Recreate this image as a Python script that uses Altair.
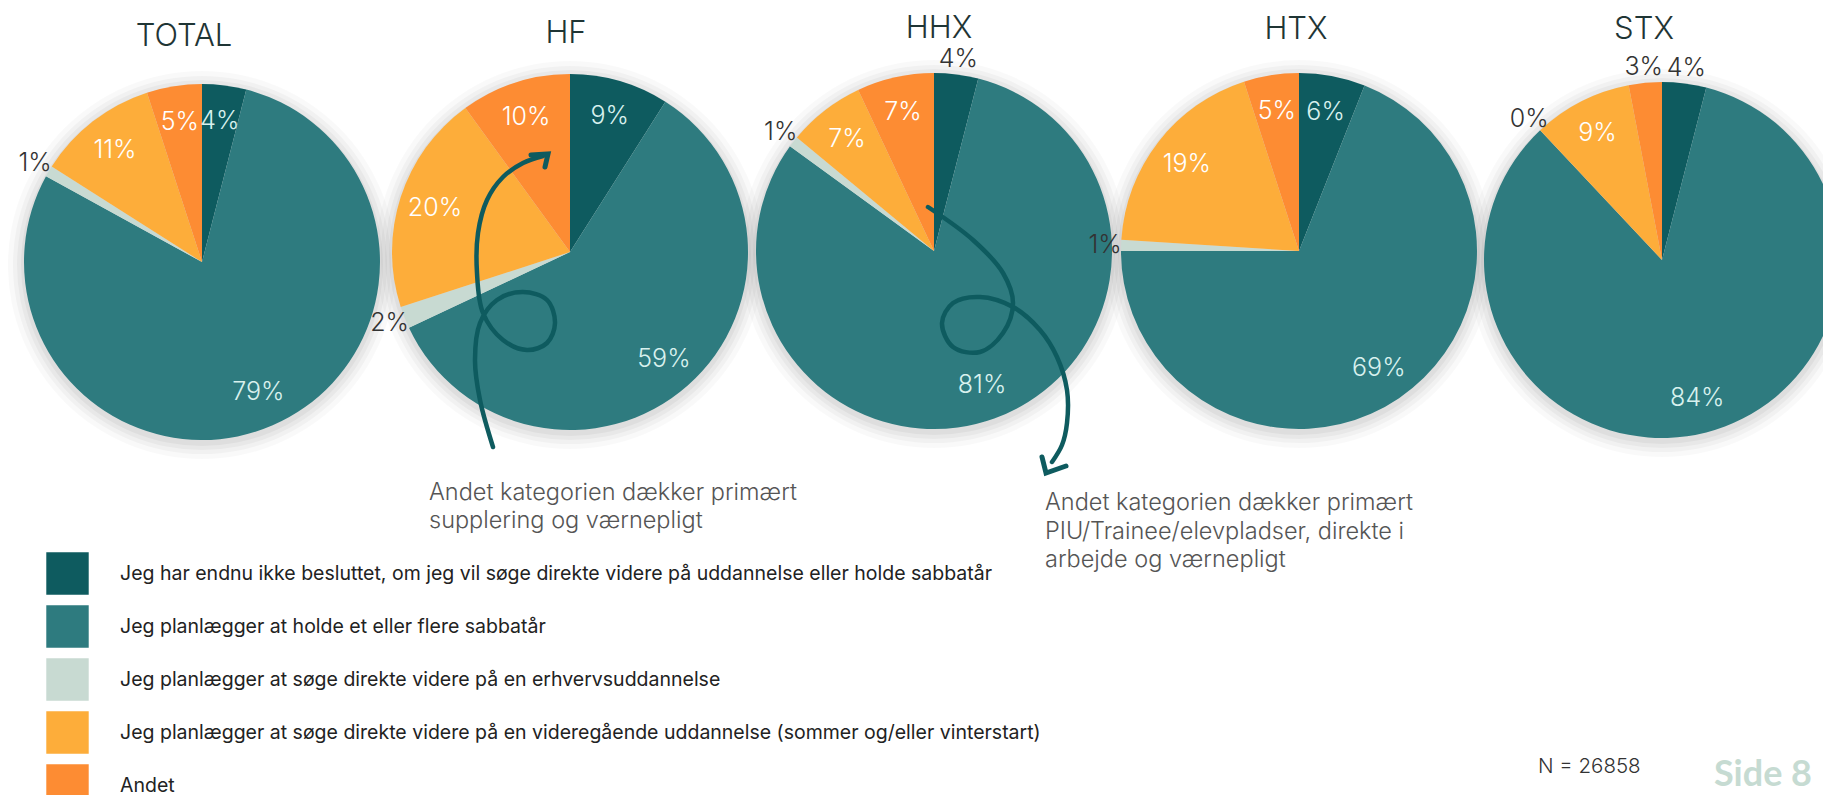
import math
import altair as alt
import pandas as pd

# ---------------- data ----------------
PANELS = ["TOTAL", "HF", "HHX", "HTX", "STX"]
CATEGORIES = [
    "Jeg har endnu ikke besluttet, om jeg vil søge direkte videre på uddannelse eller holde sabbatår",
    "Jeg planlægger at holde et eller flere sabbatår",
    "Jeg planlægger at søge direkte videre på en erhvervsuddannelse",
    "Jeg planlægger at søge direkte videre på en videregående uddannelse (sommer og/eller vinterstart)",
    "Andet",
]
TOTAL = [4, 79, 1, 11, 5]
HF = [9, 59, 2, 20, 10]
HHX = [4, 81, 1, 7, 7]
HTX = [6, 69, 1, 19, 5]
STX = [4, 84, 0, 9, 3]
VALUES = {"TOTAL": TOTAL, "HF": HF, "HHX": HHX, "HTX": HTX, "STX": STX}

NOTE_HF = ["Andet kategorien dækker primært", "supplering og værnepligt"]
NOTE_HHX = ["Andet kategorien dækker primært", "PIU/Trainee/elevpladser, direkte i", "arbejde og værnepligt"]
N_TEXT = "N = 26858"
PAGE_TEXT = "Side 8"

# ---------------- style / layout ----------------
COLORS = ["#0e5b5f", "#2e7b7f", "#c8dad2", "#fdad3a", "#fd8c33"]
LIGHT_ON = {0, 1}          # category indices with pale label text
W, H = 1815, 787            # drawing area (page coords offset by 8px margin)
R = 178
R_IN, R_OUT = 142, 194
CENTER = {"TOTAL": (202, 262), "HF": (570, 252), "HHX": (934, 251), "HTX": (1299, 251), "STX": (1662, 260)}
TITLE_POS = {"TOTAL": (184, 37), "HF": (566, 34), "HHX": (939, 29), "HTX": (1296, 30), "STX": (1644, 30)}
OUTSIDE = {("HHX", 0), ("STX", 0), ("STX", 4)}
FONT = "Inter"

# annotation arrows (page coords)
ARROW_HF = [(493, 447), (480, 400), (475, 360), (480, 323), (497, 300), (523, 292), (547, 300),
            (555, 323), (547, 343), (527, 350), (503, 340), (483, 313), (477, 273), (478, 233),
            (487, 200), (503, 177), (523, 163), (543, 156)]
ARROW_HF_HEAD = [(531, 155), (548, 154), (545, 167)]
ARROW_HHX = [(928, 207), (973, 240), (1003, 273), (1013, 303), (1003, 333), (980, 352), (953, 347),
             (942, 323), (953, 303), (980, 297), (1013, 307), (1040, 330), (1057, 357), (1067, 390),
             (1067, 423), (1062, 445), (1052, 462)]
ARROW_HHX_HEAD = [(1042, 457), (1046, 473), (1066, 466)]

# ---------------- tables ----------------
rows = []
for p in PANELS:
    cx, cy = CENTER[p]
    cum = 0
    for i, (cat, v) in enumerate(zip(CATEGORIES, VALUES[p])):
        outside = v <= 2 or (p, i) in OUTSIDE
        if outside:
            place = "out"
        elif i in LIGHT_ON:
            place = "in_light"
        else:
            place = "in_white"
        rows.append(dict(panel=p, category=cat, value=v, start=cum, end=cum + v,
                         mid=cum + v / 2, x=cx, y=cy, label=f"{v}%", place=place))
        cum += v
df = pd.DataFrame(rows)

centers = pd.DataFrame([dict(panel=p, x=CENTER[p][0], y=CENTER[p][1] + 3) for p in PANELS])
titles = pd.DataFrame([dict(text=p, x=TITLE_POS[p][0], y=TITLE_POS[p][1]) for p in PANELS])
notes = pd.DataFrame(
    [dict(text=t, x=429, y=493 + 28 * k) for k, t in enumerate(NOTE_HF)]
    + [dict(text=t, x=1045, y=503 + 28.5 * k) for k, t in enumerate(NOTE_HHX)]
)

def path_df(pts, name):
    return pd.DataFrame([dict(path=name, i=k, x=a, y=b) for k, (a, b) in enumerate(pts)])

curves = pd.concat([path_df(ARROW_HF, "hf"), path_df(ARROW_HHX, "hhx")])
heads = pd.concat([path_df(ARROW_HF_HEAD, "hf"), path_df(ARROW_HHX_HEAD, "hhx")])

# ---------------- encodings ----------------
XS = alt.Scale(domain=[8, 8 + W], nice=False, zero=False)
YS = alt.Scale(domain=[8, 8 + H], nice=False, zero=False, reverse=True)
X = alt.X("x:Q", scale=XS, axis=None)
Y = alt.Y("y:Q", scale=YS, axis=None)
TS = alt.Scale(domain=[0, 100], range=[0, 2 * math.pi])

shadow_layers = []
for extra, op in [(16, 0.025), (11, 0.03), (7, 0.035), (3, 0.04)]:
    shadow_layers.append(
        alt.Chart(centers).mark_arc(radius=R + extra, theta=0, theta2=2 * math.pi,
                                    color="#000000", opacity=op).encode(x=X, y=Y)
    )

pies = alt.Chart(df).mark_arc(radius=R, strokeWidth=0).encode(
    x=X, y=Y,
    theta=alt.Theta("start:Q", scale=TS, stack=False),
    theta2=alt.Theta2("end:Q"),
    color=alt.Color(
        "category:N",
        scale=alt.Scale(domain=CATEGORIES, range=COLORS),
        legend=alt.Legend(
            title=None, orient="none", legendX=38, legendY=544, padding=0,
            symbolType="square", symbolSize=1800, symbolStrokeWidth=0, symbolOpacity=1,
            labelFont=FONT, labelFontSize=19.5, labelFontWeight=400, labelColor="#222222",
            labelOffset=31, rowPadding=10, labelLimit=2000,
        ),
    ),
    order=alt.Order("start:Q"),
)

def label_layer(place, radius, color):
    return alt.Chart(df).transform_filter(alt.datum.place == place).mark_text(
        radius=radius, color=color, font=FONT, fontSize=25, fontWeight=300,
        align="center", baseline="middle",
    ).encode(x=X, y=Y, theta=alt.Theta("mid:Q", scale=TS, stack=False), text="label:N")

labels_in_light = label_layer("in_light", R_IN, "#d8f1ee")
labels_in_white = label_layer("in_white", R_IN, "#ffffff")
labels_out = label_layer("out", R_OUT, "#333333")

title_layer = alt.Chart(titles).mark_text(
    font=FONT, fontSize=31, fontWeight=300, color="#1f3535", align="center", baseline="middle"
).encode(x=X, y=Y, text="text:N")

note_layer = alt.Chart(notes).mark_text(
    font=FONT, fontSize=23.5, fontWeight=300, color="#555555", align="left", baseline="middle"
).encode(x=X, y=Y, text="text:N")

n_layer = alt.Chart(pd.DataFrame([dict(text=N_TEXT, x=1538, y=767)])).mark_text(
    font=FONT, fontSize=20.5, fontWeight=300, color="#333333", align="left", baseline="middle"
).encode(x=X, y=Y, text="text:N")

side_layer = alt.Chart(pd.DataFrame([dict(text=PAGE_TEXT, x=1812, y=775)])).mark_text(
    font="Lato", fontSize=36, fontWeight="bold", color="#c6dbd2", align="right", baseline="middle"
).encode(x=X, y=Y, text="text:N")

curve_layer = alt.Chart(curves).mark_line(
    interpolate="catmull-rom", color="#0e5b5f", strokeWidth=4.5, strokeCap="round"
).encode(x=X, y=Y, detail="path:N", order="i:Q")

head_layer = alt.Chart(heads).mark_line(
    color="#0e5b5f", strokeWidth=5, strokeCap="round", strokeJoin="miter"
).encode(x=X, y=Y, detail="path:N", order="i:Q")

chart = alt.layer(
    *shadow_layers, pies, labels_in_light, labels_in_white, labels_out,
    title_layer, note_layer, n_layer, side_layer, curve_layer, head_layer,
).properties(
    width=W, height=H, autosize=alt.AutoSizeParams(type="none"), padding=0,
    background="#ffffff",
).configure_view(strokeWidth=0, stroke="transparent")

chart.save("out.html", embed_options={"renderer": "svg", "actions": False})
